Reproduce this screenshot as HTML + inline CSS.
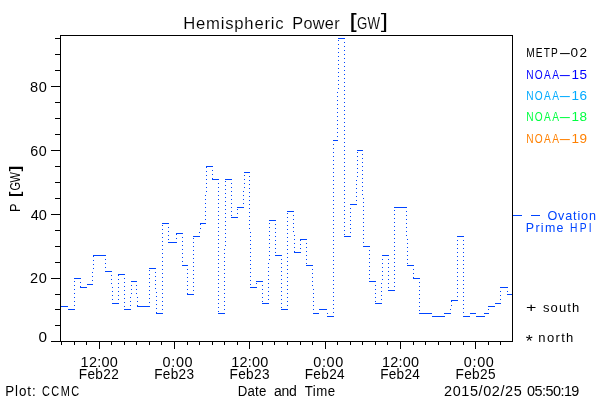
<!DOCTYPE html>
<html><head><meta charset="utf-8"><title>Hemispheric Power [GW]</title>
<style>
html,body{margin:0;padding:0;background:#fff;}
svg{display:block;}
text{font-family:"Liberation Sans",sans-serif;}
</style></head><body>
<svg width="600" height="400" viewBox="0 0 600 400">
<rect x="0" y="0" width="600" height="400" fill="#fff"/>
<g shape-rendering="crispEdges" fill="#000">
<rect x="60" y="35" width="453" height="1"/>
<rect x="60" y="341" width="453" height="1"/>
<rect x="60" y="35" width="1" height="307"/>
<rect x="512" y="35" width="1" height="307"/>
<rect x="51" y="341" width="9" height="1"/>
<rect x="55" y="325" width="5" height="1"/>
<rect x="55" y="309" width="5" height="1"/>
<rect x="55" y="294" width="5" height="1"/>
<rect x="51" y="278" width="9" height="1"/>
<rect x="55" y="262" width="5" height="1"/>
<rect x="55" y="246" width="5" height="1"/>
<rect x="55" y="230" width="5" height="1"/>
<rect x="51" y="214" width="9" height="1"/>
<rect x="55" y="198" width="5" height="1"/>
<rect x="55" y="182" width="5" height="1"/>
<rect x="55" y="166" width="5" height="1"/>
<rect x="51" y="150" width="9" height="1"/>
<rect x="55" y="134" width="5" height="1"/>
<rect x="55" y="118" width="5" height="1"/>
<rect x="55" y="102" width="5" height="1"/>
<rect x="51" y="86" width="9" height="1"/>
<rect x="55" y="70" width="5" height="1"/>
<rect x="55" y="54" width="5" height="1"/>
<rect x="55" y="38" width="5" height="1"/>
<rect x="61" y="342" width="1" height="3"/>
<rect x="74" y="342" width="1" height="3"/>
<rect x="86" y="342" width="1" height="3"/>
<rect x="99" y="342" width="1" height="7"/>
<rect x="111" y="342" width="1" height="3"/>
<rect x="124" y="342" width="1" height="3"/>
<rect x="136" y="342" width="1" height="3"/>
<rect x="149" y="342" width="1" height="3"/>
<rect x="161" y="342" width="1" height="3"/>
<rect x="174" y="342" width="1" height="7"/>
<rect x="187" y="342" width="1" height="3"/>
<rect x="199" y="342" width="1" height="3"/>
<rect x="212" y="342" width="1" height="3"/>
<rect x="224" y="342" width="1" height="3"/>
<rect x="237" y="342" width="1" height="3"/>
<rect x="249" y="342" width="1" height="7"/>
<rect x="262" y="342" width="1" height="3"/>
<rect x="274" y="342" width="1" height="3"/>
<rect x="287" y="342" width="1" height="3"/>
<rect x="300" y="342" width="1" height="3"/>
<rect x="312" y="342" width="1" height="3"/>
<rect x="325" y="342" width="1" height="7"/>
<rect x="337" y="342" width="1" height="3"/>
<rect x="350" y="342" width="1" height="3"/>
<rect x="362" y="342" width="1" height="3"/>
<rect x="375" y="342" width="1" height="3"/>
<rect x="387" y="342" width="1" height="3"/>
<rect x="400" y="342" width="1" height="7"/>
<rect x="413" y="342" width="1" height="3"/>
<rect x="425" y="342" width="1" height="3"/>
<rect x="438" y="342" width="1" height="3"/>
<rect x="450" y="342" width="1" height="3"/>
<rect x="463" y="342" width="1" height="3"/>
<rect x="475" y="342" width="1" height="7"/>
<rect x="488" y="342" width="1" height="3"/>
<rect x="500" y="342" width="1" height="3"/>
</g>
<g shape-rendering="crispEdges" fill="#0044ff">
<rect x="61" y="306" width="7" height="1"/>
<rect x="68" y="309" width="7" height="1"/>
<rect x="74" y="278" width="7" height="1"/>
<rect x="80" y="287" width="7" height="1"/>
<rect x="87" y="284" width="6" height="1"/>
<rect x="93" y="255" width="13" height="1"/>
<rect x="105" y="271" width="7" height="1"/>
<rect x="112" y="303" width="7" height="1"/>
<rect x="118" y="274" width="7" height="1"/>
<rect x="124" y="309" width="7" height="1"/>
<rect x="131" y="281" width="6" height="1"/>
<rect x="137" y="306" width="13" height="1"/>
<rect x="149" y="268" width="7" height="1"/>
<rect x="156" y="313" width="7" height="1"/>
<rect x="162" y="223" width="7" height="1"/>
<rect x="168" y="242" width="9" height="1"/>
<rect x="176" y="233" width="7" height="1"/>
<rect x="182" y="265" width="6" height="1"/>
<rect x="187" y="294" width="7" height="1"/>
<rect x="193" y="236" width="7" height="1"/>
<rect x="200" y="223" width="6" height="1"/>
<rect x="206" y="166" width="7" height="1"/>
<rect x="212" y="179" width="7" height="1"/>
<rect x="218" y="313" width="7" height="1"/>
<rect x="225" y="179" width="7" height="1"/>
<rect x="231" y="217" width="7" height="1"/>
<rect x="237" y="207" width="7" height="1"/>
<rect x="244" y="172" width="6" height="1"/>
<rect x="250" y="287" width="7" height="1"/>
<rect x="256" y="281" width="7" height="1"/>
<rect x="262" y="303" width="7" height="1"/>
<rect x="269" y="220" width="7" height="1"/>
<rect x="275" y="255" width="7" height="1"/>
<rect x="281" y="309" width="7" height="1"/>
<rect x="287" y="211" width="7" height="1"/>
<rect x="294" y="252" width="7" height="1"/>
<rect x="300" y="239" width="7" height="1"/>
<rect x="306" y="265" width="7" height="1"/>
<rect x="313" y="313" width="6" height="1"/>
<rect x="319" y="309" width="8" height="1"/>
<rect x="327" y="316" width="7" height="1"/>
<rect x="333" y="140" width="5" height="1"/>
<rect x="338" y="38" width="7" height="1"/>
<rect x="344" y="236" width="7" height="1"/>
<rect x="350" y="204" width="7" height="1"/>
<rect x="357" y="150" width="6" height="1"/>
<rect x="363" y="246" width="7" height="1"/>
<rect x="369" y="281" width="7" height="1"/>
<rect x="375" y="303" width="7" height="1"/>
<rect x="382" y="255" width="7" height="1"/>
<rect x="388" y="290" width="7" height="1"/>
<rect x="394" y="207" width="13" height="1"/>
<rect x="407" y="265" width="7" height="1"/>
<rect x="413" y="278" width="7" height="1"/>
<rect x="419" y="313" width="13" height="1"/>
<rect x="432" y="316" width="13" height="1"/>
<rect x="444" y="313" width="7" height="1"/>
<rect x="451" y="300" width="7" height="1"/>
<rect x="457" y="236" width="7" height="1"/>
<rect x="463" y="316" width="7" height="1"/>
<rect x="470" y="313" width="6" height="1"/>
<rect x="476" y="316" width="9" height="1"/>
<rect x="484" y="313" width="5" height="1"/>
<rect x="488" y="306" width="7" height="1"/>
<rect x="495" y="303" width="6" height="1"/>
<rect x="500" y="287" width="8" height="1"/>
<rect x="507" y="294" width="5" height="1"/>
<rect x="74" y="305" width="1" height="1"/>
<rect x="74" y="301" width="1" height="1"/>
<rect x="74" y="297" width="1" height="1"/>
<rect x="74" y="293" width="1" height="1"/>
<rect x="74" y="289" width="1" height="1"/>
<rect x="74" y="285" width="1" height="1"/>
<rect x="74" y="281" width="1" height="1"/>
<rect x="80" y="282" width="1" height="1"/>
<rect x="80" y="286" width="1" height="1"/>
<rect x="92" y="280" width="1" height="1"/>
<rect x="92" y="276" width="1" height="1"/>
<rect x="92" y="272" width="1" height="1"/>
<rect x="93" y="268" width="1" height="1"/>
<rect x="93" y="264" width="1" height="1"/>
<rect x="93" y="260" width="1" height="1"/>
<rect x="93" y="256" width="1" height="1"/>
<rect x="105" y="259" width="1" height="1"/>
<rect x="105" y="263" width="1" height="1"/>
<rect x="105" y="267" width="1" height="1"/>
<rect x="111" y="275" width="1" height="1"/>
<rect x="111" y="279" width="1" height="1"/>
<rect x="111" y="283" width="1" height="1"/>
<rect x="112" y="287" width="1" height="1"/>
<rect x="112" y="291" width="1" height="1"/>
<rect x="112" y="295" width="1" height="1"/>
<rect x="112" y="299" width="1" height="1"/>
<rect x="118" y="299" width="1" height="1"/>
<rect x="118" y="295" width="1" height="1"/>
<rect x="118" y="291" width="1" height="1"/>
<rect x="118" y="287" width="1" height="1"/>
<rect x="118" y="283" width="1" height="1"/>
<rect x="118" y="279" width="1" height="1"/>
<rect x="118" y="275" width="1" height="1"/>
<rect x="124" y="278" width="1" height="1"/>
<rect x="124" y="282" width="1" height="1"/>
<rect x="124" y="286" width="1" height="1"/>
<rect x="124" y="290" width="1" height="1"/>
<rect x="124" y="294" width="1" height="1"/>
<rect x="124" y="298" width="1" height="1"/>
<rect x="124" y="302" width="1" height="1"/>
<rect x="124" y="306" width="1" height="1"/>
<rect x="130" y="305" width="1" height="1"/>
<rect x="130" y="301" width="1" height="1"/>
<rect x="130" y="297" width="1" height="1"/>
<rect x="131" y="293" width="1" height="1"/>
<rect x="131" y="289" width="1" height="1"/>
<rect x="131" y="285" width="1" height="1"/>
<rect x="136" y="285" width="1" height="1"/>
<rect x="136" y="289" width="1" height="1"/>
<rect x="136" y="293" width="1" height="1"/>
<rect x="137" y="297" width="1" height="1"/>
<rect x="137" y="301" width="1" height="1"/>
<rect x="137" y="305" width="1" height="1"/>
<rect x="149" y="302" width="1" height="1"/>
<rect x="149" y="298" width="1" height="1"/>
<rect x="149" y="294" width="1" height="1"/>
<rect x="149" y="290" width="1" height="1"/>
<rect x="149" y="286" width="1" height="1"/>
<rect x="149" y="282" width="1" height="1"/>
<rect x="149" y="278" width="1" height="1"/>
<rect x="149" y="274" width="1" height="1"/>
<rect x="149" y="270" width="1" height="1"/>
<rect x="155" y="272" width="1" height="1"/>
<rect x="155" y="276" width="1" height="1"/>
<rect x="155" y="280" width="1" height="1"/>
<rect x="155" y="284" width="1" height="1"/>
<rect x="155" y="288" width="1" height="1"/>
<rect x="156" y="292" width="1" height="1"/>
<rect x="156" y="296" width="1" height="1"/>
<rect x="156" y="300" width="1" height="1"/>
<rect x="156" y="304" width="1" height="1"/>
<rect x="156" y="308" width="1" height="1"/>
<rect x="156" y="312" width="1" height="1"/>
<rect x="162" y="309" width="1" height="1"/>
<rect x="162" y="305" width="1" height="1"/>
<rect x="162" y="301" width="1" height="1"/>
<rect x="162" y="297" width="1" height="1"/>
<rect x="162" y="293" width="1" height="1"/>
<rect x="162" y="289" width="1" height="1"/>
<rect x="162" y="285" width="1" height="1"/>
<rect x="162" y="281" width="1" height="1"/>
<rect x="162" y="277" width="1" height="1"/>
<rect x="162" y="273" width="1" height="1"/>
<rect x="162" y="269" width="1" height="1"/>
<rect x="162" y="265" width="1" height="1"/>
<rect x="162" y="261" width="1" height="1"/>
<rect x="162" y="257" width="1" height="1"/>
<rect x="162" y="253" width="1" height="1"/>
<rect x="162" y="249" width="1" height="1"/>
<rect x="162" y="245" width="1" height="1"/>
<rect x="162" y="241" width="1" height="1"/>
<rect x="162" y="237" width="1" height="1"/>
<rect x="162" y="233" width="1" height="1"/>
<rect x="162" y="229" width="1" height="1"/>
<rect x="162" y="225" width="1" height="1"/>
<rect x="168" y="227" width="1" height="1"/>
<rect x="168" y="231" width="1" height="1"/>
<rect x="168" y="235" width="1" height="1"/>
<rect x="168" y="239" width="1" height="1"/>
<rect x="176" y="238" width="1" height="1"/>
<rect x="176" y="234" width="1" height="1"/>
<rect x="182" y="237" width="1" height="1"/>
<rect x="182" y="241" width="1" height="1"/>
<rect x="182" y="245" width="1" height="1"/>
<rect x="182" y="249" width="1" height="1"/>
<rect x="182" y="253" width="1" height="1"/>
<rect x="182" y="257" width="1" height="1"/>
<rect x="182" y="261" width="1" height="1"/>
<rect x="187" y="269" width="1" height="1"/>
<rect x="187" y="273" width="1" height="1"/>
<rect x="187" y="277" width="1" height="1"/>
<rect x="187" y="281" width="1" height="1"/>
<rect x="187" y="285" width="1" height="1"/>
<rect x="187" y="289" width="1" height="1"/>
<rect x="187" y="293" width="1" height="1"/>
<rect x="193" y="290" width="1" height="1"/>
<rect x="193" y="286" width="1" height="1"/>
<rect x="193" y="282" width="1" height="1"/>
<rect x="193" y="278" width="1" height="1"/>
<rect x="193" y="274" width="1" height="1"/>
<rect x="193" y="270" width="1" height="1"/>
<rect x="193" y="266" width="1" height="1"/>
<rect x="193" y="262" width="1" height="1"/>
<rect x="193" y="258" width="1" height="1"/>
<rect x="193" y="254" width="1" height="1"/>
<rect x="193" y="250" width="1" height="1"/>
<rect x="193" y="246" width="1" height="1"/>
<rect x="193" y="242" width="1" height="1"/>
<rect x="193" y="238" width="1" height="1"/>
<rect x="199" y="232" width="1" height="1"/>
<rect x="200" y="228" width="1" height="1"/>
<rect x="200" y="224" width="1" height="1"/>
<rect x="205" y="219" width="1" height="1"/>
<rect x="205" y="215" width="1" height="1"/>
<rect x="205" y="211" width="1" height="1"/>
<rect x="205" y="207" width="1" height="1"/>
<rect x="205" y="203" width="1" height="1"/>
<rect x="205" y="199" width="1" height="1"/>
<rect x="205" y="195" width="1" height="1"/>
<rect x="206" y="191" width="1" height="1"/>
<rect x="206" y="187" width="1" height="1"/>
<rect x="206" y="183" width="1" height="1"/>
<rect x="206" y="179" width="1" height="1"/>
<rect x="206" y="175" width="1" height="1"/>
<rect x="206" y="171" width="1" height="1"/>
<rect x="206" y="167" width="1" height="1"/>
<rect x="212" y="170" width="1" height="1"/>
<rect x="212" y="174" width="1" height="1"/>
<rect x="212" y="178" width="1" height="1"/>
<rect x="218" y="183" width="1" height="1"/>
<rect x="218" y="187" width="1" height="1"/>
<rect x="218" y="191" width="1" height="1"/>
<rect x="218" y="195" width="1" height="1"/>
<rect x="218" y="199" width="1" height="1"/>
<rect x="218" y="203" width="1" height="1"/>
<rect x="218" y="207" width="1" height="1"/>
<rect x="218" y="211" width="1" height="1"/>
<rect x="218" y="215" width="1" height="1"/>
<rect x="218" y="219" width="1" height="1"/>
<rect x="218" y="223" width="1" height="1"/>
<rect x="218" y="227" width="1" height="1"/>
<rect x="218" y="231" width="1" height="1"/>
<rect x="218" y="235" width="1" height="1"/>
<rect x="218" y="239" width="1" height="1"/>
<rect x="218" y="243" width="1" height="1"/>
<rect x="218" y="247" width="1" height="1"/>
<rect x="218" y="251" width="1" height="1"/>
<rect x="218" y="255" width="1" height="1"/>
<rect x="218" y="259" width="1" height="1"/>
<rect x="218" y="263" width="1" height="1"/>
<rect x="218" y="267" width="1" height="1"/>
<rect x="218" y="271" width="1" height="1"/>
<rect x="218" y="275" width="1" height="1"/>
<rect x="218" y="279" width="1" height="1"/>
<rect x="218" y="283" width="1" height="1"/>
<rect x="218" y="287" width="1" height="1"/>
<rect x="218" y="291" width="1" height="1"/>
<rect x="218" y="295" width="1" height="1"/>
<rect x="218" y="299" width="1" height="1"/>
<rect x="218" y="303" width="1" height="1"/>
<rect x="218" y="307" width="1" height="1"/>
<rect x="218" y="311" width="1" height="1"/>
<rect x="224" y="309" width="1" height="1"/>
<rect x="224" y="305" width="1" height="1"/>
<rect x="224" y="301" width="1" height="1"/>
<rect x="224" y="297" width="1" height="1"/>
<rect x="224" y="293" width="1" height="1"/>
<rect x="224" y="289" width="1" height="1"/>
<rect x="224" y="285" width="1" height="1"/>
<rect x="224" y="281" width="1" height="1"/>
<rect x="224" y="277" width="1" height="1"/>
<rect x="224" y="273" width="1" height="1"/>
<rect x="224" y="269" width="1" height="1"/>
<rect x="224" y="265" width="1" height="1"/>
<rect x="224" y="261" width="1" height="1"/>
<rect x="224" y="257" width="1" height="1"/>
<rect x="224" y="253" width="1" height="1"/>
<rect x="224" y="249" width="1" height="1"/>
<rect x="225" y="245" width="1" height="1"/>
<rect x="225" y="241" width="1" height="1"/>
<rect x="225" y="237" width="1" height="1"/>
<rect x="225" y="233" width="1" height="1"/>
<rect x="225" y="229" width="1" height="1"/>
<rect x="225" y="225" width="1" height="1"/>
<rect x="225" y="221" width="1" height="1"/>
<rect x="225" y="217" width="1" height="1"/>
<rect x="225" y="213" width="1" height="1"/>
<rect x="225" y="209" width="1" height="1"/>
<rect x="225" y="205" width="1" height="1"/>
<rect x="225" y="201" width="1" height="1"/>
<rect x="225" y="197" width="1" height="1"/>
<rect x="225" y="193" width="1" height="1"/>
<rect x="225" y="189" width="1" height="1"/>
<rect x="225" y="185" width="1" height="1"/>
<rect x="225" y="181" width="1" height="1"/>
<rect x="231" y="183" width="1" height="1"/>
<rect x="231" y="187" width="1" height="1"/>
<rect x="231" y="191" width="1" height="1"/>
<rect x="231" y="195" width="1" height="1"/>
<rect x="231" y="199" width="1" height="1"/>
<rect x="231" y="203" width="1" height="1"/>
<rect x="231" y="207" width="1" height="1"/>
<rect x="231" y="211" width="1" height="1"/>
<rect x="231" y="215" width="1" height="1"/>
<rect x="237" y="213" width="1" height="1"/>
<rect x="237" y="209" width="1" height="1"/>
<rect x="243" y="203" width="1" height="1"/>
<rect x="243" y="199" width="1" height="1"/>
<rect x="243" y="195" width="1" height="1"/>
<rect x="243" y="191" width="1" height="1"/>
<rect x="244" y="187" width="1" height="1"/>
<rect x="244" y="183" width="1" height="1"/>
<rect x="244" y="179" width="1" height="1"/>
<rect x="244" y="175" width="1" height="1"/>
<rect x="249" y="176" width="1" height="1"/>
<rect x="249" y="180" width="1" height="1"/>
<rect x="249" y="184" width="1" height="1"/>
<rect x="249" y="188" width="1" height="1"/>
<rect x="249" y="192" width="1" height="1"/>
<rect x="249" y="196" width="1" height="1"/>
<rect x="249" y="200" width="1" height="1"/>
<rect x="249" y="204" width="1" height="1"/>
<rect x="249" y="208" width="1" height="1"/>
<rect x="249" y="212" width="1" height="1"/>
<rect x="249" y="216" width="1" height="1"/>
<rect x="249" y="220" width="1" height="1"/>
<rect x="249" y="224" width="1" height="1"/>
<rect x="249" y="228" width="1" height="1"/>
<rect x="250" y="232" width="1" height="1"/>
<rect x="250" y="236" width="1" height="1"/>
<rect x="250" y="240" width="1" height="1"/>
<rect x="250" y="244" width="1" height="1"/>
<rect x="250" y="248" width="1" height="1"/>
<rect x="250" y="252" width="1" height="1"/>
<rect x="250" y="256" width="1" height="1"/>
<rect x="250" y="260" width="1" height="1"/>
<rect x="250" y="264" width="1" height="1"/>
<rect x="250" y="268" width="1" height="1"/>
<rect x="250" y="272" width="1" height="1"/>
<rect x="250" y="276" width="1" height="1"/>
<rect x="250" y="280" width="1" height="1"/>
<rect x="250" y="284" width="1" height="1"/>
<rect x="256" y="283" width="1" height="1"/>
<rect x="262" y="285" width="1" height="1"/>
<rect x="262" y="289" width="1" height="1"/>
<rect x="262" y="293" width="1" height="1"/>
<rect x="262" y="297" width="1" height="1"/>
<rect x="262" y="301" width="1" height="1"/>
<rect x="268" y="299" width="1" height="1"/>
<rect x="268" y="295" width="1" height="1"/>
<rect x="268" y="291" width="1" height="1"/>
<rect x="268" y="287" width="1" height="1"/>
<rect x="268" y="283" width="1" height="1"/>
<rect x="268" y="279" width="1" height="1"/>
<rect x="268" y="275" width="1" height="1"/>
<rect x="268" y="271" width="1" height="1"/>
<rect x="268" y="267" width="1" height="1"/>
<rect x="268" y="263" width="1" height="1"/>
<rect x="269" y="259" width="1" height="1"/>
<rect x="269" y="255" width="1" height="1"/>
<rect x="269" y="251" width="1" height="1"/>
<rect x="269" y="247" width="1" height="1"/>
<rect x="269" y="243" width="1" height="1"/>
<rect x="269" y="239" width="1" height="1"/>
<rect x="269" y="235" width="1" height="1"/>
<rect x="269" y="231" width="1" height="1"/>
<rect x="269" y="227" width="1" height="1"/>
<rect x="269" y="223" width="1" height="1"/>
<rect x="275" y="224" width="1" height="1"/>
<rect x="275" y="228" width="1" height="1"/>
<rect x="275" y="232" width="1" height="1"/>
<rect x="275" y="236" width="1" height="1"/>
<rect x="275" y="240" width="1" height="1"/>
<rect x="275" y="244" width="1" height="1"/>
<rect x="275" y="248" width="1" height="1"/>
<rect x="275" y="252" width="1" height="1"/>
<rect x="281" y="259" width="1" height="1"/>
<rect x="281" y="263" width="1" height="1"/>
<rect x="281" y="267" width="1" height="1"/>
<rect x="281" y="271" width="1" height="1"/>
<rect x="281" y="275" width="1" height="1"/>
<rect x="281" y="279" width="1" height="1"/>
<rect x="281" y="283" width="1" height="1"/>
<rect x="281" y="287" width="1" height="1"/>
<rect x="281" y="291" width="1" height="1"/>
<rect x="281" y="295" width="1" height="1"/>
<rect x="281" y="299" width="1" height="1"/>
<rect x="281" y="303" width="1" height="1"/>
<rect x="281" y="307" width="1" height="1"/>
<rect x="287" y="305" width="1" height="1"/>
<rect x="287" y="301" width="1" height="1"/>
<rect x="287" y="297" width="1" height="1"/>
<rect x="287" y="293" width="1" height="1"/>
<rect x="287" y="289" width="1" height="1"/>
<rect x="287" y="285" width="1" height="1"/>
<rect x="287" y="281" width="1" height="1"/>
<rect x="287" y="277" width="1" height="1"/>
<rect x="287" y="273" width="1" height="1"/>
<rect x="287" y="269" width="1" height="1"/>
<rect x="287" y="265" width="1" height="1"/>
<rect x="287" y="261" width="1" height="1"/>
<rect x="287" y="257" width="1" height="1"/>
<rect x="287" y="253" width="1" height="1"/>
<rect x="287" y="249" width="1" height="1"/>
<rect x="287" y="245" width="1" height="1"/>
<rect x="287" y="241" width="1" height="1"/>
<rect x="287" y="237" width="1" height="1"/>
<rect x="287" y="233" width="1" height="1"/>
<rect x="287" y="229" width="1" height="1"/>
<rect x="287" y="225" width="1" height="1"/>
<rect x="287" y="221" width="1" height="1"/>
<rect x="287" y="217" width="1" height="1"/>
<rect x="287" y="213" width="1" height="1"/>
<rect x="293" y="215" width="1" height="1"/>
<rect x="293" y="219" width="1" height="1"/>
<rect x="293" y="223" width="1" height="1"/>
<rect x="293" y="227" width="1" height="1"/>
<rect x="293" y="231" width="1" height="1"/>
<rect x="294" y="235" width="1" height="1"/>
<rect x="294" y="239" width="1" height="1"/>
<rect x="294" y="243" width="1" height="1"/>
<rect x="294" y="247" width="1" height="1"/>
<rect x="294" y="251" width="1" height="1"/>
<rect x="300" y="248" width="1" height="1"/>
<rect x="300" y="244" width="1" height="1"/>
<rect x="300" y="240" width="1" height="1"/>
<rect x="306" y="243" width="1" height="1"/>
<rect x="306" y="247" width="1" height="1"/>
<rect x="306" y="251" width="1" height="1"/>
<rect x="306" y="255" width="1" height="1"/>
<rect x="306" y="259" width="1" height="1"/>
<rect x="306" y="263" width="1" height="1"/>
<rect x="312" y="269" width="1" height="1"/>
<rect x="312" y="273" width="1" height="1"/>
<rect x="312" y="277" width="1" height="1"/>
<rect x="312" y="281" width="1" height="1"/>
<rect x="312" y="285" width="1" height="1"/>
<rect x="313" y="289" width="1" height="1"/>
<rect x="313" y="293" width="1" height="1"/>
<rect x="313" y="297" width="1" height="1"/>
<rect x="313" y="301" width="1" height="1"/>
<rect x="313" y="305" width="1" height="1"/>
<rect x="313" y="309" width="1" height="1"/>
<rect x="327" y="313" width="1" height="1"/>
<rect x="333" y="312" width="1" height="1"/>
<rect x="333" y="308" width="1" height="1"/>
<rect x="333" y="304" width="1" height="1"/>
<rect x="333" y="300" width="1" height="1"/>
<rect x="333" y="296" width="1" height="1"/>
<rect x="333" y="292" width="1" height="1"/>
<rect x="333" y="288" width="1" height="1"/>
<rect x="333" y="284" width="1" height="1"/>
<rect x="333" y="280" width="1" height="1"/>
<rect x="333" y="276" width="1" height="1"/>
<rect x="333" y="272" width="1" height="1"/>
<rect x="333" y="268" width="1" height="1"/>
<rect x="333" y="264" width="1" height="1"/>
<rect x="333" y="260" width="1" height="1"/>
<rect x="333" y="256" width="1" height="1"/>
<rect x="333" y="252" width="1" height="1"/>
<rect x="333" y="248" width="1" height="1"/>
<rect x="333" y="244" width="1" height="1"/>
<rect x="333" y="240" width="1" height="1"/>
<rect x="333" y="236" width="1" height="1"/>
<rect x="333" y="232" width="1" height="1"/>
<rect x="333" y="228" width="1" height="1"/>
<rect x="333" y="224" width="1" height="1"/>
<rect x="333" y="220" width="1" height="1"/>
<rect x="333" y="216" width="1" height="1"/>
<rect x="333" y="212" width="1" height="1"/>
<rect x="333" y="208" width="1" height="1"/>
<rect x="333" y="204" width="1" height="1"/>
<rect x="333" y="200" width="1" height="1"/>
<rect x="333" y="196" width="1" height="1"/>
<rect x="333" y="192" width="1" height="1"/>
<rect x="333" y="188" width="1" height="1"/>
<rect x="333" y="184" width="1" height="1"/>
<rect x="333" y="180" width="1" height="1"/>
<rect x="333" y="176" width="1" height="1"/>
<rect x="333" y="172" width="1" height="1"/>
<rect x="333" y="168" width="1" height="1"/>
<rect x="333" y="164" width="1" height="1"/>
<rect x="333" y="160" width="1" height="1"/>
<rect x="333" y="156" width="1" height="1"/>
<rect x="333" y="152" width="1" height="1"/>
<rect x="333" y="148" width="1" height="1"/>
<rect x="333" y="144" width="1" height="1"/>
<rect x="337" y="136" width="1" height="1"/>
<rect x="337" y="132" width="1" height="1"/>
<rect x="337" y="128" width="1" height="1"/>
<rect x="337" y="124" width="1" height="1"/>
<rect x="337" y="120" width="1" height="1"/>
<rect x="337" y="116" width="1" height="1"/>
<rect x="337" y="112" width="1" height="1"/>
<rect x="337" y="108" width="1" height="1"/>
<rect x="337" y="104" width="1" height="1"/>
<rect x="337" y="100" width="1" height="1"/>
<rect x="337" y="96" width="1" height="1"/>
<rect x="337" y="92" width="1" height="1"/>
<rect x="338" y="88" width="1" height="1"/>
<rect x="338" y="84" width="1" height="1"/>
<rect x="338" y="80" width="1" height="1"/>
<rect x="338" y="76" width="1" height="1"/>
<rect x="338" y="72" width="1" height="1"/>
<rect x="338" y="68" width="1" height="1"/>
<rect x="338" y="64" width="1" height="1"/>
<rect x="338" y="60" width="1" height="1"/>
<rect x="338" y="56" width="1" height="1"/>
<rect x="338" y="52" width="1" height="1"/>
<rect x="338" y="48" width="1" height="1"/>
<rect x="338" y="44" width="1" height="1"/>
<rect x="338" y="40" width="1" height="1"/>
<rect x="344" y="42" width="1" height="1"/>
<rect x="344" y="46" width="1" height="1"/>
<rect x="344" y="50" width="1" height="1"/>
<rect x="344" y="54" width="1" height="1"/>
<rect x="344" y="58" width="1" height="1"/>
<rect x="344" y="62" width="1" height="1"/>
<rect x="344" y="66" width="1" height="1"/>
<rect x="344" y="70" width="1" height="1"/>
<rect x="344" y="74" width="1" height="1"/>
<rect x="344" y="78" width="1" height="1"/>
<rect x="344" y="82" width="1" height="1"/>
<rect x="344" y="86" width="1" height="1"/>
<rect x="344" y="90" width="1" height="1"/>
<rect x="344" y="94" width="1" height="1"/>
<rect x="344" y="98" width="1" height="1"/>
<rect x="344" y="102" width="1" height="1"/>
<rect x="344" y="106" width="1" height="1"/>
<rect x="344" y="110" width="1" height="1"/>
<rect x="344" y="114" width="1" height="1"/>
<rect x="344" y="118" width="1" height="1"/>
<rect x="344" y="122" width="1" height="1"/>
<rect x="344" y="126" width="1" height="1"/>
<rect x="344" y="130" width="1" height="1"/>
<rect x="344" y="134" width="1" height="1"/>
<rect x="344" y="138" width="1" height="1"/>
<rect x="344" y="142" width="1" height="1"/>
<rect x="344" y="146" width="1" height="1"/>
<rect x="344" y="150" width="1" height="1"/>
<rect x="344" y="154" width="1" height="1"/>
<rect x="344" y="158" width="1" height="1"/>
<rect x="344" y="162" width="1" height="1"/>
<rect x="344" y="166" width="1" height="1"/>
<rect x="344" y="170" width="1" height="1"/>
<rect x="344" y="174" width="1" height="1"/>
<rect x="344" y="178" width="1" height="1"/>
<rect x="344" y="182" width="1" height="1"/>
<rect x="344" y="186" width="1" height="1"/>
<rect x="344" y="190" width="1" height="1"/>
<rect x="344" y="194" width="1" height="1"/>
<rect x="344" y="198" width="1" height="1"/>
<rect x="344" y="202" width="1" height="1"/>
<rect x="344" y="206" width="1" height="1"/>
<rect x="344" y="210" width="1" height="1"/>
<rect x="344" y="214" width="1" height="1"/>
<rect x="344" y="218" width="1" height="1"/>
<rect x="344" y="222" width="1" height="1"/>
<rect x="344" y="226" width="1" height="1"/>
<rect x="344" y="230" width="1" height="1"/>
<rect x="344" y="234" width="1" height="1"/>
<rect x="350" y="232" width="1" height="1"/>
<rect x="350" y="228" width="1" height="1"/>
<rect x="350" y="224" width="1" height="1"/>
<rect x="350" y="220" width="1" height="1"/>
<rect x="350" y="216" width="1" height="1"/>
<rect x="350" y="212" width="1" height="1"/>
<rect x="350" y="208" width="1" height="1"/>
<rect x="356" y="200" width="1" height="1"/>
<rect x="356" y="196" width="1" height="1"/>
<rect x="356" y="192" width="1" height="1"/>
<rect x="356" y="188" width="1" height="1"/>
<rect x="356" y="184" width="1" height="1"/>
<rect x="356" y="180" width="1" height="1"/>
<rect x="357" y="176" width="1" height="1"/>
<rect x="357" y="172" width="1" height="1"/>
<rect x="357" y="168" width="1" height="1"/>
<rect x="357" y="164" width="1" height="1"/>
<rect x="357" y="160" width="1" height="1"/>
<rect x="357" y="156" width="1" height="1"/>
<rect x="357" y="152" width="1" height="1"/>
<rect x="362" y="154" width="1" height="1"/>
<rect x="362" y="158" width="1" height="1"/>
<rect x="362" y="162" width="1" height="1"/>
<rect x="362" y="166" width="1" height="1"/>
<rect x="362" y="170" width="1" height="1"/>
<rect x="362" y="174" width="1" height="1"/>
<rect x="362" y="178" width="1" height="1"/>
<rect x="362" y="182" width="1" height="1"/>
<rect x="362" y="186" width="1" height="1"/>
<rect x="362" y="190" width="1" height="1"/>
<rect x="362" y="194" width="1" height="1"/>
<rect x="363" y="198" width="1" height="1"/>
<rect x="363" y="202" width="1" height="1"/>
<rect x="363" y="206" width="1" height="1"/>
<rect x="363" y="210" width="1" height="1"/>
<rect x="363" y="214" width="1" height="1"/>
<rect x="363" y="218" width="1" height="1"/>
<rect x="363" y="222" width="1" height="1"/>
<rect x="363" y="226" width="1" height="1"/>
<rect x="363" y="230" width="1" height="1"/>
<rect x="363" y="234" width="1" height="1"/>
<rect x="363" y="238" width="1" height="1"/>
<rect x="363" y="242" width="1" height="1"/>
<rect x="369" y="250" width="1" height="1"/>
<rect x="369" y="254" width="1" height="1"/>
<rect x="369" y="258" width="1" height="1"/>
<rect x="369" y="262" width="1" height="1"/>
<rect x="369" y="266" width="1" height="1"/>
<rect x="369" y="270" width="1" height="1"/>
<rect x="369" y="274" width="1" height="1"/>
<rect x="369" y="278" width="1" height="1"/>
<rect x="375" y="285" width="1" height="1"/>
<rect x="375" y="289" width="1" height="1"/>
<rect x="375" y="293" width="1" height="1"/>
<rect x="375" y="297" width="1" height="1"/>
<rect x="375" y="301" width="1" height="1"/>
<rect x="381" y="299" width="1" height="1"/>
<rect x="381" y="295" width="1" height="1"/>
<rect x="381" y="291" width="1" height="1"/>
<rect x="381" y="287" width="1" height="1"/>
<rect x="381" y="283" width="1" height="1"/>
<rect x="382" y="279" width="1" height="1"/>
<rect x="382" y="275" width="1" height="1"/>
<rect x="382" y="271" width="1" height="1"/>
<rect x="382" y="267" width="1" height="1"/>
<rect x="382" y="263" width="1" height="1"/>
<rect x="382" y="259" width="1" height="1"/>
<rect x="388" y="259" width="1" height="1"/>
<rect x="388" y="263" width="1" height="1"/>
<rect x="388" y="267" width="1" height="1"/>
<rect x="388" y="271" width="1" height="1"/>
<rect x="388" y="275" width="1" height="1"/>
<rect x="388" y="279" width="1" height="1"/>
<rect x="388" y="283" width="1" height="1"/>
<rect x="388" y="287" width="1" height="1"/>
<rect x="394" y="286" width="1" height="1"/>
<rect x="394" y="282" width="1" height="1"/>
<rect x="394" y="278" width="1" height="1"/>
<rect x="394" y="274" width="1" height="1"/>
<rect x="394" y="270" width="1" height="1"/>
<rect x="394" y="266" width="1" height="1"/>
<rect x="394" y="262" width="1" height="1"/>
<rect x="394" y="258" width="1" height="1"/>
<rect x="394" y="254" width="1" height="1"/>
<rect x="394" y="250" width="1" height="1"/>
<rect x="394" y="246" width="1" height="1"/>
<rect x="394" y="242" width="1" height="1"/>
<rect x="394" y="238" width="1" height="1"/>
<rect x="394" y="234" width="1" height="1"/>
<rect x="394" y="230" width="1" height="1"/>
<rect x="394" y="226" width="1" height="1"/>
<rect x="394" y="222" width="1" height="1"/>
<rect x="394" y="218" width="1" height="1"/>
<rect x="394" y="214" width="1" height="1"/>
<rect x="394" y="210" width="1" height="1"/>
<rect x="406" y="211" width="1" height="1"/>
<rect x="406" y="215" width="1" height="1"/>
<rect x="406" y="219" width="1" height="1"/>
<rect x="406" y="223" width="1" height="1"/>
<rect x="406" y="227" width="1" height="1"/>
<rect x="406" y="231" width="1" height="1"/>
<rect x="406" y="235" width="1" height="1"/>
<rect x="407" y="239" width="1" height="1"/>
<rect x="407" y="243" width="1" height="1"/>
<rect x="407" y="247" width="1" height="1"/>
<rect x="407" y="251" width="1" height="1"/>
<rect x="407" y="255" width="1" height="1"/>
<rect x="407" y="259" width="1" height="1"/>
<rect x="407" y="263" width="1" height="1"/>
<rect x="413" y="269" width="1" height="1"/>
<rect x="413" y="273" width="1" height="1"/>
<rect x="413" y="277" width="1" height="1"/>
<rect x="419" y="282" width="1" height="1"/>
<rect x="419" y="286" width="1" height="1"/>
<rect x="419" y="290" width="1" height="1"/>
<rect x="419" y="294" width="1" height="1"/>
<rect x="419" y="298" width="1" height="1"/>
<rect x="419" y="302" width="1" height="1"/>
<rect x="419" y="306" width="1" height="1"/>
<rect x="419" y="310" width="1" height="1"/>
<rect x="450" y="309" width="1" height="1"/>
<rect x="451" y="305" width="1" height="1"/>
<rect x="451" y="301" width="1" height="1"/>
<rect x="457" y="296" width="1" height="1"/>
<rect x="457" y="292" width="1" height="1"/>
<rect x="457" y="288" width="1" height="1"/>
<rect x="457" y="284" width="1" height="1"/>
<rect x="457" y="280" width="1" height="1"/>
<rect x="457" y="276" width="1" height="1"/>
<rect x="457" y="272" width="1" height="1"/>
<rect x="457" y="268" width="1" height="1"/>
<rect x="457" y="264" width="1" height="1"/>
<rect x="457" y="260" width="1" height="1"/>
<rect x="457" y="256" width="1" height="1"/>
<rect x="457" y="252" width="1" height="1"/>
<rect x="457" y="248" width="1" height="1"/>
<rect x="457" y="244" width="1" height="1"/>
<rect x="457" y="240" width="1" height="1"/>
<rect x="463" y="240" width="1" height="1"/>
<rect x="463" y="244" width="1" height="1"/>
<rect x="463" y="248" width="1" height="1"/>
<rect x="463" y="252" width="1" height="1"/>
<rect x="463" y="256" width="1" height="1"/>
<rect x="463" y="260" width="1" height="1"/>
<rect x="463" y="264" width="1" height="1"/>
<rect x="463" y="268" width="1" height="1"/>
<rect x="463" y="272" width="1" height="1"/>
<rect x="463" y="276" width="1" height="1"/>
<rect x="463" y="280" width="1" height="1"/>
<rect x="463" y="284" width="1" height="1"/>
<rect x="463" y="288" width="1" height="1"/>
<rect x="463" y="292" width="1" height="1"/>
<rect x="463" y="296" width="1" height="1"/>
<rect x="463" y="300" width="1" height="1"/>
<rect x="463" y="304" width="1" height="1"/>
<rect x="463" y="308" width="1" height="1"/>
<rect x="463" y="312" width="1" height="1"/>
<rect x="488" y="309" width="1" height="1"/>
<rect x="500" y="299" width="1" height="1"/>
<rect x="500" y="295" width="1" height="1"/>
<rect x="500" y="291" width="1" height="1"/>
<rect x="507" y="291" width="1" height="1"/>
<rect x="513" y="215" width="9" height="1"/>
<rect x="531" y="215" width="9" height="1"/>
</g>
<g>
<text y="29" font-size="17" fill="#000" stroke="#fff" stroke-width="0.1"><tspan x="183.26" y="29" letter-spacing="0.79" textLength="101.07" lengthAdjust="spacingAndGlyphs">Hemispheric</tspan> <tspan x="292.24" y="29" letter-spacing="0.35" textLength="47.74" lengthAdjust="spacingAndGlyphs">Power</tspan> <tspan x="349.98" font-size="20" y="28.4" font-weight="bold" textLength="6.75" lengthAdjust="spacingAndGlyphs">[</tspan><tspan x="357.02" y="29" letter-spacing="0.26" textLength="23.24" lengthAdjust="spacingAndGlyphs">GW</tspan><tspan x="380.89" font-size="20" y="28.4" textLength="7.31" lengthAdjust="spacingAndGlyphs">]</tspan></text>
<text y="92" font-size="14" fill="#000" stroke="#fff" stroke-width="0"><tspan x="29.94" letter-spacing="0.65" textLength="17.55" lengthAdjust="spacingAndGlyphs">80</tspan></text>
<text y="156" font-size="14" fill="#000" stroke="#fff" stroke-width="0"><tspan x="30.23" letter-spacing="0.51" textLength="16.98" lengthAdjust="spacingAndGlyphs">60</tspan></text>
<text y="220" font-size="14" fill="#000" stroke="#fff" stroke-width="0"><tspan x="30.73" letter-spacing="-0.02" textLength="16.15" lengthAdjust="spacingAndGlyphs">40</tspan></text>
<text y="283" font-size="14" fill="#000" stroke="#fff" stroke-width="0"><tspan x="30.07" letter-spacing="0.45" textLength="17.14" lengthAdjust="spacingAndGlyphs">20</tspan></text>
<text y="342" font-size="14" fill="#000" stroke="#fff" stroke-width="0"><tspan x="38.41" textLength="8.54" lengthAdjust="spacingAndGlyphs">0</tspan></text>
<text y="367" font-size="14" fill="#000" stroke="#fff" stroke-width="0"><tspan x="80.63" letter-spacing="0.22" textLength="37.31" lengthAdjust="spacingAndGlyphs">12:00</tspan></text>
<text y="379" font-size="14" fill="#000" stroke="#fff" stroke-width="0"><tspan x="78.72" letter-spacing="0.4" textLength="40.52" lengthAdjust="spacingAndGlyphs">Feb22</tspan></text>
<text y="367" font-size="14" fill="#000" stroke="#fff" stroke-width="0"><tspan x="162.62" letter-spacing="0.61" textLength="30.56" lengthAdjust="spacingAndGlyphs">0:00</tspan></text>
<text y="379" font-size="14" fill="#000" stroke="#fff" stroke-width="0"><tspan x="154.15" letter-spacing="0.34" textLength="40.26" lengthAdjust="spacingAndGlyphs">Feb23</tspan></text>
<text y="367" font-size="14" fill="#000" stroke="#fff" stroke-width="0"><tspan x="231.21" letter-spacing="0.22" textLength="37.3" lengthAdjust="spacingAndGlyphs">12:00</tspan></text>
<text y="379" font-size="14" fill="#000" stroke="#fff" stroke-width="0"><tspan x="229.56" letter-spacing="0.34" textLength="40.26" lengthAdjust="spacingAndGlyphs">Feb23</tspan></text>
<text y="367" font-size="14" fill="#000" stroke="#fff" stroke-width="0"><tspan x="313.21" letter-spacing="0.66" textLength="30.81" lengthAdjust="spacingAndGlyphs">0:00</tspan></text>
<text y="379" font-size="14" fill="#000" stroke="#fff" stroke-width="0"><tspan x="304.73" letter-spacing="0.34" textLength="40.25" lengthAdjust="spacingAndGlyphs">Feb24</tspan></text>
<text y="367" font-size="14" fill="#000" stroke="#fff" stroke-width="0"><tspan x="382.05" letter-spacing="0.22" textLength="37.29" lengthAdjust="spacingAndGlyphs">12:00</tspan></text>
<text y="379" font-size="14" fill="#000" stroke="#fff" stroke-width="0"><tspan x="380.16" letter-spacing="0.29" textLength="39.98" lengthAdjust="spacingAndGlyphs">Feb24</tspan></text>
<text y="367" font-size="14" fill="#000" stroke="#fff" stroke-width="0"><tspan x="463.78" letter-spacing="0.67" textLength="30.81" lengthAdjust="spacingAndGlyphs">0:00</tspan></text>
<text y="379" font-size="14" fill="#000" stroke="#fff" stroke-width="0"><tspan x="455.56" letter-spacing="0.34" textLength="40.26" lengthAdjust="spacingAndGlyphs">Feb25</tspan></text>
<text y="396" font-size="14" fill="#000" stroke="#fff" stroke-width="0"><tspan x="5.13" letter-spacing="1.01" textLength="31.61" lengthAdjust="spacingAndGlyphs">Plot:</tspan> <tspan x="41.97" letter-spacing="1.89" textLength="38.65" lengthAdjust="spacingAndGlyphs">CCMC</tspan></text>
<text y="396" font-size="14" fill="#000" stroke="#fff" stroke-width="0"><tspan x="237.68" letter-spacing="0.24" textLength="28.87" lengthAdjust="spacingAndGlyphs">Date</tspan> <tspan x="273.97" letter-spacing="-0.27" textLength="22.56" lengthAdjust="spacingAndGlyphs">and</tspan> <tspan x="304.74" letter-spacing="0.5" textLength="30.81" lengthAdjust="spacingAndGlyphs">Time</tspan></text>
<text y="396" font-size="14" fill="#000" stroke="#fff" stroke-width="0"><tspan x="444.08" letter-spacing="0.58" textLength="78.3" lengthAdjust="spacingAndGlyphs">2015/02/25</tspan> <tspan x="527.09" letter-spacing="-0.53" textLength="51.76" lengthAdjust="spacingAndGlyphs">05:50:19</tspan></text>
<text y="57" font-size="13" fill="#000" stroke="#fff" stroke-width="0"><tspan x="526.13" letter-spacing="1.52" textLength="32.9" lengthAdjust="spacingAndGlyphs">METP</tspan><tspan x="558.36" textLength="13.38" lengthAdjust="spacingAndGlyphs">-</tspan><tspan x="570.48" letter-spacing="1.43" textLength="18.07" lengthAdjust="spacingAndGlyphs">02</tspan></text>
<text y="78.5" font-size="13" fill="#0000ff" stroke="#fff" stroke-width="0"><tspan x="526.14" letter-spacing="1.74" textLength="34.19" lengthAdjust="spacingAndGlyphs">NOAA</tspan><tspan x="557.91" textLength="13.68" lengthAdjust="spacingAndGlyphs">-</tspan><tspan x="571.59" letter-spacing="0.46" textLength="16.0" lengthAdjust="spacingAndGlyphs">15</tspan></text>
<text y="100" font-size="13" fill="#00aaff" stroke="#fff" stroke-width="0"><tspan x="526.14" letter-spacing="1.74" textLength="34.19" lengthAdjust="spacingAndGlyphs">NOAA</tspan><tspan x="557.91" textLength="13.68" lengthAdjust="spacingAndGlyphs">-</tspan><tspan x="571.6" letter-spacing="0.45" textLength="15.99" lengthAdjust="spacingAndGlyphs">16</tspan></text>
<text y="121" font-size="13" fill="#00ff40" stroke="#fff" stroke-width="0"><tspan x="526.14" letter-spacing="1.74" textLength="34.19" lengthAdjust="spacingAndGlyphs">NOAA</tspan><tspan x="557.91" textLength="13.68" lengthAdjust="spacingAndGlyphs">-</tspan><tspan x="571.6" letter-spacing="0.45" textLength="15.99" lengthAdjust="spacingAndGlyphs">18</tspan></text>
<text y="143" font-size="13" fill="#ff8000" stroke="#fff" stroke-width="0"><tspan x="526.14" letter-spacing="1.74" textLength="34.19" lengthAdjust="spacingAndGlyphs">NOAA</tspan><tspan x="557.91" textLength="13.68" lengthAdjust="spacingAndGlyphs">-</tspan><tspan x="571.6" letter-spacing="0.45" textLength="15.99" lengthAdjust="spacingAndGlyphs">19</tspan></text>
<text y="220" font-size="13" fill="#0044ff" stroke="#fff" stroke-width="0"><tspan x="547.42" letter-spacing="0.89" textLength="49.46" lengthAdjust="spacingAndGlyphs">Ovation</tspan></text>
<text y="232" font-size="13" fill="#0044ff" stroke="#fff" stroke-width="0"><tspan x="525.77" letter-spacing="1.38" textLength="39.07" lengthAdjust="spacingAndGlyphs">Prime</tspan> <tspan x="570.07" letter-spacing="2.78" textLength="23.71" lengthAdjust="spacingAndGlyphs">HPI</tspan></text>
<text y="312" font-size="13" fill="#000" stroke="#fff" stroke-width="0"><tspan x="525.93" textLength="10.39" lengthAdjust="spacingAndGlyphs">+</tspan> <tspan x="543.02" letter-spacing="1.11" textLength="37.35" lengthAdjust="spacingAndGlyphs">south</tspan></text>
<text y="342" font-size="13" fill="#000" stroke="#fff" stroke-width="0"><tspan x="525.78" font-size="16" y="347.2" textLength="7.0" lengthAdjust="spacingAndGlyphs">*</tspan> <tspan x="538.36" y="342" letter-spacing="1.33" textLength="36.28" lengthAdjust="spacingAndGlyphs">north</tspan></text>
<text y="20" font-size="14" fill="#000" stroke="#fff" stroke-width="0" transform="translate(0,400) rotate(-90)"><tspan x="188.08" textLength="8.28" lengthAdjust="spacingAndGlyphs">P</tspan> <tspan x="203.04" font-weight="bold" textLength="5.37" lengthAdjust="spacingAndGlyphs">[</tspan><tspan x="209.5" letter-spacing="-0.61" textLength="17.85" lengthAdjust="spacingAndGlyphs">GW</tspan><tspan x="228.43" font-weight="bold" textLength="5.79" lengthAdjust="spacingAndGlyphs">]</tspan></text>
</g>
</svg>
</body></html>
